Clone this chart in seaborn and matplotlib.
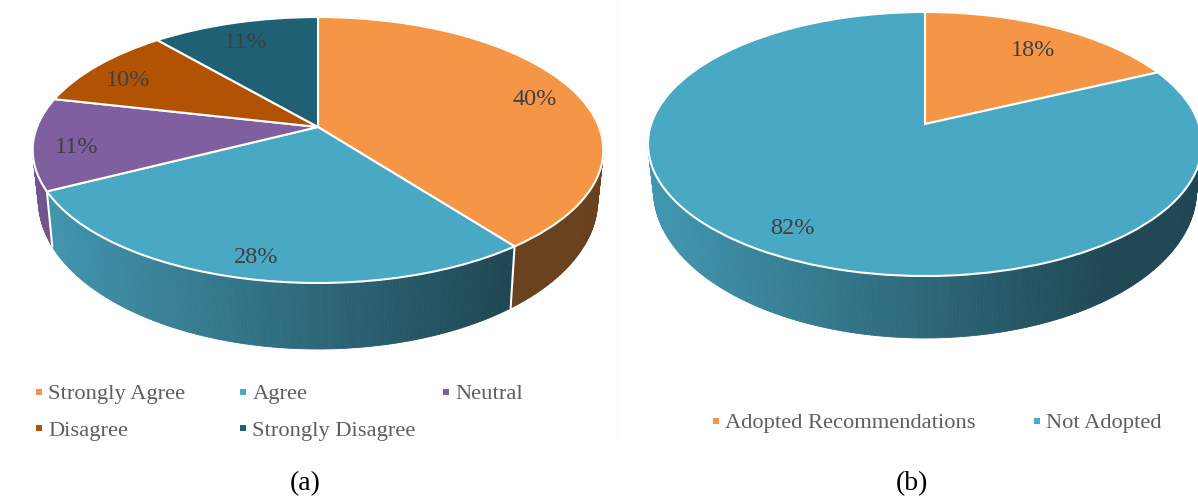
import numpy as np
import matplotlib
matplotlib.use("Agg")
import matplotlib.pyplot as plt
import matplotlib.transforms as mtransforms
from matplotlib.collections import PolyCollection
from matplotlib.lines import Line2D
from matplotlib.patches import Rectangle
from matplotlib.colors import to_rgb
import seaborn as sns

categories_a = ["Strongly Agree", "Agree", "Neutral", "Disagree", "Strongly Disagree"]
values_a = [39.7, 27.7, 11.2, 10.2, 11.2]
categories_b = ["Adopted Recommendations", "Not Adopted"]
values_b = [18, 82]
caption_a = "(a)"
caption_b = "(b)"

sns.set_theme(style="white")
plt.rcParams["font.family"] = ["Liberation Serif", "DejaVu Serif"]
palette = sns.color_palette(["#F59646", "#49A8C4", "#7F5FA0", "#B25203", "#1F6075"])

W, H = 1198, 497
fig = plt.figure(figsize=(W / 100, H / 100), dpi=100, facecolor="white")


class Tilt(mtransforms.Transform):
    """Perspective view of the unit pie plane, in pixel offsets from the apex."""
    input_dims = output_dims = 2
    is_separable = False
    has_inverse = False

    def __init__(self, a, b, p):
        super().__init__()
        self.a, self.b, self.p = a, b, p

    def transform_non_affine(self, values):
        values = np.asarray(values, float)
        w = 1 + self.p * values[:, 1]
        return np.column_stack([self.a * values[:, 0] / w, self.b * values[:, 1] / w])


def panel(box, apex):
    x0, y0, x1, y1 = box
    fig.add_artist(Rectangle((x0 / W, 1 - y1 / H), (x1 - x0) / W, (y1 - y0) / H,
                             transform=fig.transFigure, fc="#FEFEFE", ec="none", zorder=-5))
    ax = fig.add_axes([x0 / W, 1 - y1 / H, (x1 - x0) / W, (y1 - y0) / H])
    return ax, (x0 - apex[0], x1 - apex[0]), (apex[1] - y1, apex[1] - y0)


def pie3d(box, apex, values, colors, a, b, p, h, pctdist):
    ax, xl, yl = panel(box, apex)
    tilt = Tilt(a, b, p)
    rx = a / np.sqrt(1 - p ** 2)

    def lower(pts):
        return np.column_stack([0.98 * pts[:, 0], 1.118 * pts[:, 1] - h])

    wedges, _, pcts = ax.pie(values, colors=colors, startangle=90, counterclock=False,
                             autopct="%.0f%%", pctdistance=pctdist,
                             wedgeprops=dict(edgecolor="white", linewidth=1.5),
                             textprops=dict(fontsize=17.5, color="#3F3F46"))
    ax.set_aspect("auto")
    ax.set_xlim(*xl)
    ax.set_ylim(*yl)

    bounds = np.cumsum([0] + list(values)) / sum(values) * 2 * np.pi
    polys, faces = [], []
    for s, e, col in zip(bounds[:-1], bounds[1:], colors):
        t = np.linspace(s, e, max(int((e - s) * 90), 2) + 1)
        top = tilt.transform_non_affine(np.column_stack([np.sin(t), np.cos(t)]))
        low = lower(top)
        for i in range(len(t) - 1):
            polys.append([top[i], top[i + 1], low[i + 1], low[i]])
            f = np.interp(top[i:i + 2, 0].mean() / rx, [-1, 0.65], [0.90, 0.43])
            faces.append(tuple(np.array(to_rgb(col)) * f))
    ax.add_collection(PolyCollection(polys, facecolors=faces, edgecolors=faces,
                                     linewidths=0.6, zorder=0.5), autolim=False)
    for t in bounds[:-1]:
        top = tilt.transform_non_affine(np.array([[np.sin(t), np.cos(t)]]))
        low = lower(top)
        ax.plot([top[0, 0], low[0, 0]], [top[0, 1], low[0, 1]], color="white", lw=1.5, zorder=0.6)

    for w in wedges:
        w.set_transform(tilt + ax.transData)
        w.set_zorder(2)
    for txt in pcts:
        x, y = tilt.transform_non_affine(np.array([txt.get_position()]))[0]
        txt.set_position((x, y - 6))
        txt.set_zorder(3)
    ax.set_xlim(*xl)
    ax.set_ylim(*yl)
    return ax


def key(labels, colors, x, y):
    handles = [Line2D([], [], ls="none", marker="s", ms=4.6, mfc=c, mec=c, mew=0) for c in colors]
    leg = fig.legend(handles=handles, labels=labels, loc="center left",
                     bbox_to_anchor=(x / W, 1 - y / H), frameon=False, borderpad=0,
                     borderaxespad=0, fontsize=16.2, labelcolor="#5F5F5F",
                     handlelength=0.6, handletextpad=0.13, labelspacing=0.72)
    return leg


pie3d((8, 0, 620, 447), (318, 127), values_a, palette, 281, 129, 0.173, 47.6, 0.85)
pie3d((640, 0, 1198, 453), (925, 124), values_b, palette[:2], 273.8, 129, 0.1515, 44, 0.81)

key([categories_a[0], categories_a[3]], [palette[0], palette[3]], 32, 412.5)
key([categories_a[1], categories_a[4]], [palette[1], palette[4]], 236, 412.5)
key([categories_a[2]], [palette[2]], 439, 394)
key([categories_b[0]], [palette[0]], 709, 423)
key([categories_b[1]], [palette[1]], 1030, 423)

fig.text(305 / W, 1 - 484 / H, caption_a, ha="center", va="center", fontsize=20, color="black")
fig.text(912 / W, 1 - 484 / H, caption_b, ha="center", va="center", fontsize=20, color="black")

fig.savefig("out.png", dpi=100)
